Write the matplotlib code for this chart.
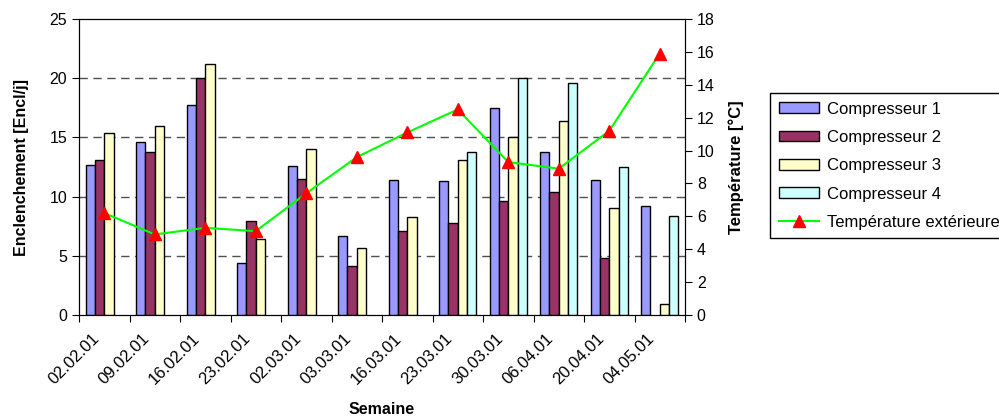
import numpy as np
import matplotlib
matplotlib.use("Agg")
import matplotlib.pyplot as plt
from matplotlib.patches import Patch
from matplotlib.lines import Line2D
from matplotlib.transforms import ScaledTranslation

plt.rcParams['font.family'] = ['Liberation Sans', 'DejaVu Sans']
plt.rcParams['font.size'] = 11.5

# data
semaines = ["02.02.01", "09.02.01", "16.02.01", "23.02.01", "02.03.01", "03.03.01",
            "16.03.01", "23.03.01", "30.03.01", "06.04.01", "20.04.01", "04.05.01"]
comp1 = [12.7, 14.6, 17.7, 4.4, 12.6, 6.7, 11.4, 11.3, 17.5, 13.8, 11.4, 9.2]
comp2 = [13.1, 13.8, 20.0, 7.9, 11.5, 4.1, 7.1, 7.8, 9.6, 10.4, 4.8, np.nan]
comp3 = [15.4, 16.0, 21.2, 6.4, 14.0, 5.7, 8.3, 13.1, 15.0, 16.4, 9.0, 0.9]
comp4 = [np.nan, np.nan, np.nan, np.nan, np.nan, np.nan, np.nan, 13.8, 20.0, 19.6, 12.5, 8.4]
temp_ext = [6.2, 4.9, 5.3, 5.1, 7.4, 9.6, 11.1, 12.5, 9.3, 8.9, 11.2, 15.9]

series = [("Compresseur 1", comp1, "#9999FF"),
          ("Compresseur 2", comp2, "#993366"),
          ("Compresseur 3", comp3, "#FFFFCC"),
          ("Compresseur 4", comp4, "#CCFFFF")]

fig = plt.figure(figsize=(9.99, 4.18), dpi=100)
ax = fig.add_axes([0.0791, 0.2464, 0.6066, 0.7081])

x = np.arange(len(semaines))
w = 0.185
for k, (name, vals, col) in enumerate(series):
    ax.bar(x + (k - 1.5) * w, vals, width=w, color=col, edgecolor="black",
           linewidth=1.0, zorder=3)

ax.set_xlim(-0.5, len(semaines) - 0.5)
ax.set_ylim(0, 25)
ax.set_yticks(range(0, 26, 5))
for yv in range(5, 25, 5):
    ax.axhline(yv, color="#505050", linewidth=1.0, linestyle=(0, (6, 4)), zorder=1)

ax.set_xticks(np.arange(-0.5, len(semaines), 1))
ax.set_xticklabels([])
ax.set_xticks(x, minor=True)
ax.set_xticklabels(semaines, minor=True, rotation=45, ha="right", va="top",
                   rotation_mode="anchor", fontsize=12)
ax.tick_params(axis="x", which="minor", length=0, pad=0)
ax.tick_params(axis="x", which="major", length=5, direction="out")
ax.tick_params(axis="y", length=5, direction="out")
# shift the slanted labels like the original (left and down)
shift = ScaledTranslation(-0.13, -0.16, fig.dpi_scale_trans)
for lbl in ax.get_xticklabels(minor=True):
    lbl.set_transform(lbl.get_transform() + shift)

ax.set_ylabel("Enclenchement [Encl/j]", fontweight="bold", labelpad=15)
ax.set_xlabel("Semaine", fontweight="bold")
ax.xaxis.set_label_coords(0.5, -0.295)

ax2 = ax.twinx()
ax2.plot(x, temp_ext, color="#00FF00", linewidth=1.5, marker="^",
         markersize=9, markerfacecolor="red", markeredgecolor="red", zorder=4)
ax2.set_ylim(0, 18)
ax2.set_yticks(range(0, 19, 2))
ax2.tick_params(axis="y", length=5, direction="out")
ax2.set_ylabel("Température [°C]", fontweight="bold", labelpad=10, fontsize=12)

handles = [Patch(facecolor=col, edgecolor="black", linewidth=1.0) for _, _, col in series]
handles.append(Line2D([], [], color="#00FF00", linewidth=1.5, marker="^",
                      markersize=9, markerfacecolor="red", markeredgecolor="red"))
labels = [s[0] for s in series] + ["Température extérieure"]
fig.legend(handles, labels, loc="upper left", bbox_to_anchor=(0.771, 0.777),
           frameon=True, fancybox=False, edgecolor="black", framealpha=1,
           fontsize=12, handlelength=2.4, handleheight=0.6, labelspacing=0.8,
           handletextpad=0.5, borderpad=0.5, borderaxespad=0)

fig.savefig("out.png", dpi=100)
plt.close(fig)
